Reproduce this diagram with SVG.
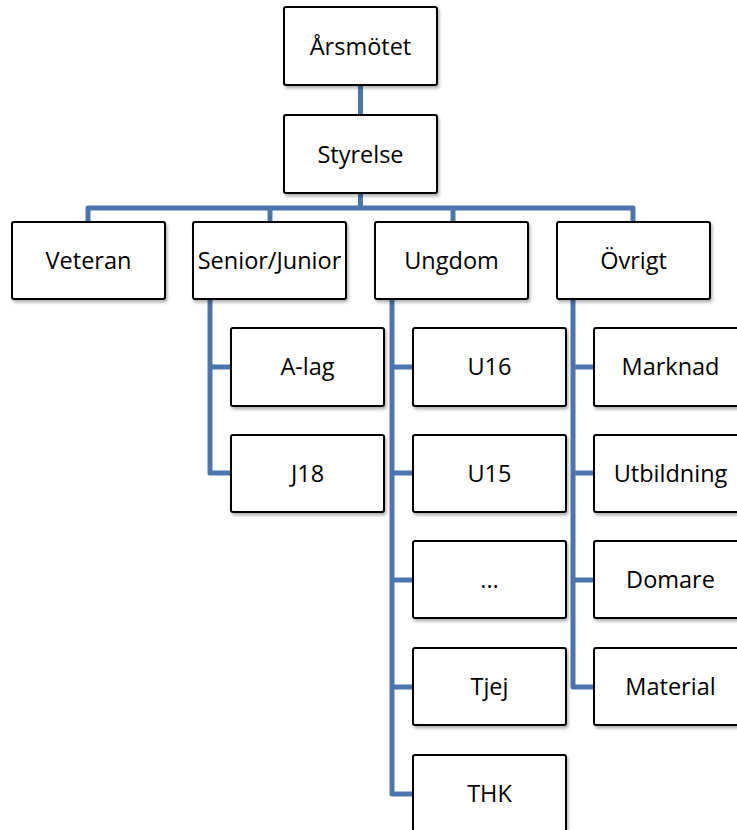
<svg xmlns="http://www.w3.org/2000/svg" width="737" height="830" viewBox="0 0 737 830">
<defs>
<filter id="sh" x="-10%" y="-10%" width="130%" height="130%">
<feDropShadow dx="1.5" dy="2.5" stdDeviation="1.5" flood-color="#000" flood-opacity="0.3"/>
</filter>
</defs>
<style>
.box{fill:#fff;stroke:#000;stroke-width:2;filter:url(#sh)}
.t{font-family:"Open Sans","Liberation Sans",Arial,sans-serif;font-size:23.5px;fill:#000;text-anchor:middle}
.c{fill:none;stroke:#4a76ad;stroke-width:5;stroke-linejoin:round}
</style>
<rect width="737" height="830" fill="#fff"/>
<g id="connectors">
<path class="c" d="M360.5 85 V115"/>
<path class="c" d="M360.5 193 V208"/>
<path class="c" d="M88 222 V208 H633 V222"/>
<path class="c" d="M270 208 V222"/>
<path class="c" d="M453 208 V222"/>
<path class="c" d="M210 299 V473 H231"/>
<path class="c" d="M210 367 H231"/>
<path class="c" d="M392 299 V794 H413"/>
<path class="c" d="M392 367 H413 M392 473 H413 M392 580 H413 M392 687 H413"/>
<path class="c" d="M573 299 V687 H594"/>
<path class="c" d="M573 367 H594 M573 473 H594 M573 580 H594"/>
</g>
<g id="n-arsmotet"><rect class="box" x="284" y="7" width="153" height="78" rx="2"/><text class="t" x="360.5" y="55">Årsmötet</text></g>
<g id="n-styrelse"><rect class="box" x="284" y="115" width="153" height="78" rx="2"/><text class="t" x="360.5" y="163">Styrelse</text></g>
<g id="n-veteran"><rect class="box" x="12" y="222" width="153" height="77" rx="2"/><text class="t" x="88.5" y="269">Veteran</text></g>
<g id="n-senior"><rect class="box" x="193" y="222" width="153" height="77" rx="2"/><text class="t" x="269.5" y="269">Senior/Junior</text></g>
<g id="n-ungdom"><rect class="box" x="375" y="222" width="153" height="77" rx="2"/><text class="t" x="451.5" y="269">Ungdom</text></g>
<g id="n-ovrigt"><rect class="box" x="557" y="222" width="153" height="77" rx="2"/><text class="t" x="633.5" y="269">Övrigt</text></g>
<g id="n-alag"><rect class="box" x="231" y="328" width="153" height="78" rx="2"/><text class="t" x="307.5" y="375">A-lag</text></g>
<g id="n-j18"><rect class="box" x="231" y="435" width="153" height="77" rx="2"/><text class="t" x="307.5" y="482">J18</text></g>
<g id="n-u16"><rect class="box" x="413" y="328" width="153" height="78" rx="2"/><text class="t" x="489.5" y="375">U16</text></g>
<g id="n-u15"><rect class="box" x="413" y="435" width="153" height="77" rx="2"/><text class="t" x="489.5" y="482">U15</text></g>
<g id="n-dots"><rect class="box" x="413" y="541" width="153" height="77" rx="2"/><text class="t" x="489.5" y="588">...</text></g>
<g id="n-tjej"><rect class="box" x="413" y="648" width="153" height="77" rx="2"/><text class="t" x="489.5" y="695">Tjej</text></g>
<g id="n-thk"><rect class="box" x="413" y="755" width="153" height="77" rx="2"/><text class="t" x="489.5" y="802">THK</text></g>
<g id="n-marknad"><rect class="box" x="594" y="328" width="153" height="78" rx="2"/><text class="t" x="670.5" y="375">Marknad</text></g>
<g id="n-utbildning"><rect class="box" x="594" y="435" width="153" height="77" rx="2"/><text class="t" x="670.5" y="482">Utbildning</text></g>
<g id="n-domare"><rect class="box" x="594" y="541" width="153" height="77" rx="2"/><text class="t" x="670.5" y="588">Domare</text></g>
<g id="n-material"><rect class="box" x="594" y="648" width="153" height="77" rx="2"/><text class="t" x="670.5" y="695">Material</text></g>
</svg>
